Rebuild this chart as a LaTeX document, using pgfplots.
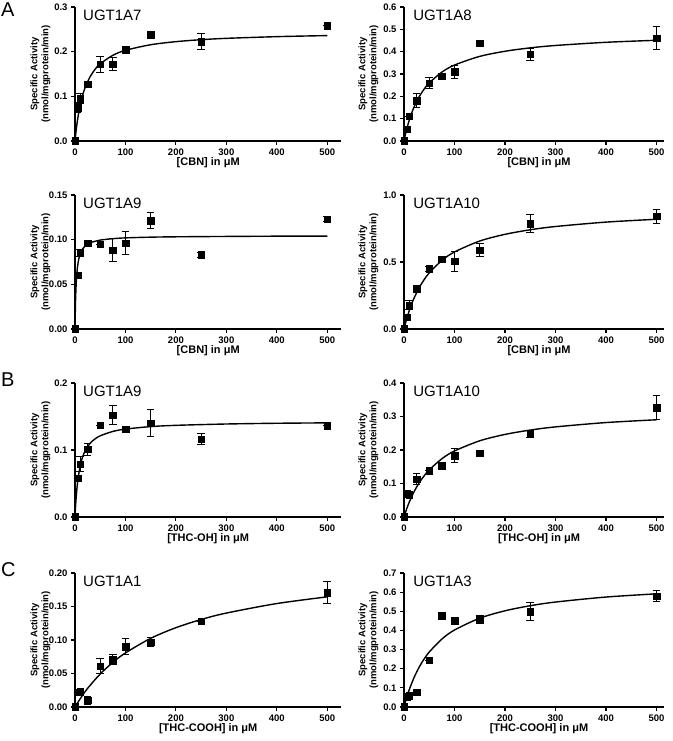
\documentclass[border=0pt]{standalone}
\usepackage{fontspec}
\setmainfont{Liberation Sans}
\usepackage{pgfplots}
\pgfplotsset{compat=1.18}

\pgfplotsset{
  panel/.style={
    scale only axis, anchor=south west, clip=false,
    height=134pt, xmin=0, ymin=0,
    axis lines*=left, xtick pos=left, ytick pos=left,
    axis line style={-, line width=1.1pt},
    tick align=outside, major tick length=4pt,
    tick style={line width=1.1pt, black},
    xtick={0,100,200,300,400,500},
    tick label style={font=\bfseries\fontsize{9.5}{10}\selectfont},
    /pgf/number format/assume math mode=true,
    yticklabel style={/pgf/number format/.cd, fixed, fixed zerofill, precision=1},
    ylabel={Specific Activity\\(nmol/mgprotein/min)},
    ylabel style={at={(axis description cs:-0.13,0.5)}, anchor=center, align=center,
      font=\bfseries\fontsize{9.5}{11}\selectfont},
    xlabel style={at={(axis description cs:0.5,-0.165)}, anchor=center,
      font=\bfseries\fontsize{11}{12}\selectfont},
  },
  left panel/.style={panel, width=266.4pt, xmax=528},
  right panel/.style={panel, width=259.6pt, xmax=514,
    ylabel style={at={(axis description cs:-0.137,0.5)}},
    xlabel style={at={(axis description cs:0.52,-0.165)}}},
  fit/.style={black, line width=1.4pt, smooth, no markers},
  pts/.style={black, only marks, mark=square*, mark size=3.3pt,
    error bars/.cd, y dir=both, y explicit,
    error bar style={line width=1pt},
    error mark options={rotate=90, mark size=3.8pt, line width=1pt}},
}
\newcommand{\ttl}[2]{\node[anchor=west, inner sep=0, font=\fontsize{15}{16}\selectfont] at (axis description cs:#1,0.94) {#2};}

\begin{document}
\begin{tikzpicture}
\useasboundingbox (0,0) rectangle (672pt,741pt);

\node[anchor=west, inner sep=0, font=\fontsize{20}{20}\selectfont] at (1pt,731pt) {A};
\node[anchor=west, inner sep=0, font=\fontsize{20}{20}\selectfont] at (1pt,361pt) {B};
\node[anchor=west, inner sep=0, font=\fontsize{20}{20}\selectfont] at (1pt,171pt) {C};

% row 1: CBN, UGT1A7
\begin{axis}[left panel, at={(75pt,600pt)}, ymax=0.3, ytick={0,0.1,0.2,0.3},
  xlabel={[CBN] in μM}]
\addplot[fit] coordinates {(0,0) (2,0.0212) (5,0.0469) (10,0.0788) (15,0.1019) (20,0.1194)
  (30,0.1441) (40,0.1608) (50,0.1728) (75,0.1918) (100,0.2030) (150,0.2155) (200,0.2224)
  (250,0.2268) (300,0.2298) (400,0.2336) (500,0.2360)};
\addplot[pts] table[x=x, y=y, y error=e] {
x y e
0 0 0
5 0.075 0.012
10 0.095 0.011
25 0.127 0
50 0.172 0.018
75 0.172 0.014
100 0.205 0.006
150 0.238 0.008
250 0.222 0.018
500 0.258 0
};
\ttl{0.03}{UGT1A7}
\end{axis}

% row 1: CBN, UGT1A8
\begin{axis}[right panel, at={(404pt,600pt)}, ymax=0.6, ytick={0,0.1,0.2,0.3,0.4,0.5,0.6},
  xlabel={[CBN] in μM}]
\addplot[fit] coordinates {(0,0) (2,0.0212) (5,0.0497) (10,0.0903) (15,0.1240) (20,0.1525)
  (30,0.1980) (40,0.2327) (50,0.2601) (75,0.3084) (100,0.3400) (150,0.3789) (200,0.4018)
  (250,0.4170) (300,0.4277) (400,0.4419) (500,0.4510)};
\addplot[pts] table[x=x, y=y, y error=e] {
x y e
0 0 0
5 0.053 0
10 0.111 0
25 0.181 0.030
50 0.258 0.025
75 0.291 0
100 0.310 0.030
150 0.437 0
250 0.388 0.026
500 0.460 0.052
};
\ttl{0.035}{UGT1A8}
\end{axis}

% row 2: CBN, UGT1A9
\begin{axis}[left panel, at={(75pt,412pt)}, ymax=0.15, ytick={0,0.05,0.10,0.15},
  yticklabel style={/pgf/number format/precision=2},
  xlabel={[CBN] in μM}]
\addplot[fit] coordinates {(0,0) (1,0.0299) (2,0.0464) (3,0.0570) (5,0.0697) (7.5,0.0784)
  (10,0.0836) (15,0.0896) (20,0.0929) (30,0.0965) (50,0.0995) (75,0.1011) (100,0.1020)
  (150,0.1028) (200,0.1032) (300,0.1036) (400,0.1039) (500,0.1040)};
\addplot[pts] table[x=x, y=y, y error=e] {
x y e
0 0 0
5 0.060 0
10 0.085 0.004
25 0.096 0
50 0.095 0
75 0.088 0.013
100 0.096 0.013
150 0.121 0.009
250 0.083 0.003
500 0.123 0.003
};
\ttl{0.03}{UGT1A9}
\end{axis}

% row 2: CBN, UGT1A10
\begin{axis}[right panel, at={(404pt,412pt)}, ymax=1.0, ytick={0,0.5,1.0},
  xlabel={[CBN] in μM}]
\addplot[fit] coordinates {(0,0) (2,0.0299) (5,0.0712) (10,0.1322) (15,0.1849) (20,0.2310)
  (30,0.3077) (40,0.3690) (50,0.4190) (75,0.5115) (100,0.5750) (150,0.6565) (200,0.7065)
  (250,0.7404) (300,0.7648) (400,0.7977) (500,0.8189)};
\addplot[pts] table[x=x, y=y, y error=e] {
x y e
0 0 0
5 0.089 0
10 0.178 0.035
25 0.300 0.022
50 0.450 0.018
75 0.520 0
100 0.505 0.075
150 0.587 0.048
250 0.785 0.068
500 0.842 0.053
};
\ttl{0.035}{UGT1A10}
\end{axis}

% row 3: THC-OH, UGT1A9
\begin{axis}[left panel, at={(75pt,224pt)}, ymax=0.2, ytick={0,0.1,0.2},
  xlabel={[THC-OH] in μM}]
\addplot[fit] coordinates {(0,0) (1,0.0143) (2,0.0260) (5,0.0511) (10,0.0753) (15,0.0894)
  (20,0.0986) (30,0.1100) (40,0.1167) (50,0.1212) (75,0.1277) (100,0.1312) (150,0.1349)
  (200,0.1368) (300,0.1388) (400,0.1399) (500,0.1405)};
\addplot[pts] table[x=x, y=y, y error=e] {
x y e
0 0 0
5 0.058 0
10 0.079 0.011
25 0.101 0.009
50 0.137 0
75 0.152 0.014
100 0.131 0
150 0.140 0.020
250 0.116 0.008
500 0.136 0
};
\ttl{0.03}{UGT1A9}
\end{axis}

% row 3: THC-OH, UGT1A10
\begin{axis}[right panel, at={(404pt,224pt)}, ymax=0.4, ytick={0,0.1,0.2,0.3,0.4},
  xlabel={[THC-OH] in μM}]
\addplot[fit] coordinates {(0,0) (5,0.0229) (10,0.0428) (20,0.0757) (30,0.1019) (40,0.1231)
  (50,0.1407) (75,0.1739) (100,0.1971) (150,0.2275) (200,0.2465) (250,0.2595)
  (300,0.2690) (400,0.2819) (500,0.2902)};
\addplot[pts] table[x=x, y=y, y error=e] {
x y e
0 0 0
5 0.070 0.005
10 0.067 0
25 0.113 0.017
50 0.138 0
75 0.154 0
100 0.183 0.021
150 0.190 0
250 0.248 0.010
500 0.327 0.036
};
\ttl{0.035}{UGT1A10}
\end{axis}

% row 4: THC-COOH, UGT1A1
\begin{axis}[left panel, at={(75pt,34pt)}, ymax=0.2, ytick={0,0.05,0.10,0.15,0.20},
  yticklabel style={/pgf/number format/precision=2},
  xlabel={[THC-COOH] in μM}]
\addplot[fit] coordinates {(0,0) (10,0.0120) (25,0.0278) (50,0.0493) (75,0.0666)
  (100,0.0807) (150,0.1025) (200,0.1184) (250,0.1306) (300,0.1402) (400,0.1544) (500,0.1644)};
\addplot[pts] table[x=x, y=y, y error=e] {
x y e
0 0 0
5 0.022 0
10 0.023 0
25 0.010 0.006
50 0.061 0.011
75 0.071 0.007
100 0.090 0.012
150 0.097 0.006
250 0.128 0
500 0.171 0.016
};
\ttl{0.03}{UGT1A1}
\end{axis}

% row 4: THC-COOH, UGT1A3
\begin{axis}[right panel, at={(404pt,34pt)}, ymax=0.7, ytick={0,0.1,0.2,0.3,0.4,0.5,0.6,0.7},
  xlabel={[THC-COOH] in μM}]
\addplot[fit] coordinates {(0,0) (5,0.0468) (10,0.0875) (20,0.1547) (30,0.2081) (40,0.2514)
  (50,0.2873) (75,0.3549) (100,0.4022) (150,0.4640) (200,0.5026) (250,0.5291)
  (300,0.5483) (400,0.5744) (500,0.5912)};
\addplot[pts] table[x=x, y=y, y error=e] {
x y e
0 0 0
5 0.055 0.018
10 0.060 0
25 0.078 0
50 0.245 0
75 0.478 0
100 0.450 0
150 0.456 0.020
250 0.498 0.047
500 0.578 0.028
};
\ttl{0.035}{UGT1A3}
\end{axis}
\end{tikzpicture}
\end{document}
